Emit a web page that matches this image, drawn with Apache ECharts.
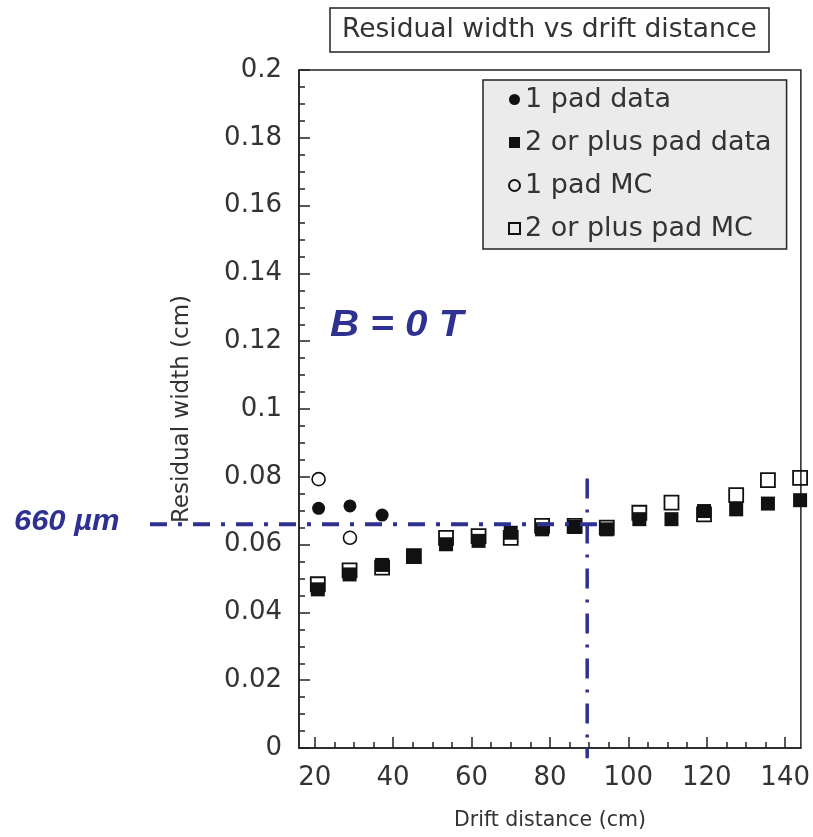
<!DOCTYPE html>
<html>
<head>
<meta charset="utf-8">
<script src="https://cdn.jsdelivr.net/npm/echarts@6/dist/echarts.min.js"></script>
<style>
html,body{margin:0;padding:0;background:#fff;}
#chart{width:813px;height:837px;}
</style>
</head>
<body>
<div id="chart"></div>
<script>
// ---- data ----
const xTickLabels = [20, 40, 60, 80, 100, 120, 140];
const xMinorTicks = [25, 30, 35, 45, 50, 55, 65, 70, 75, 85, 90, 95, 105, 110, 115, 125, 130, 135];

const xPad1Data = [21, 29, 37.2];
const yPad1Data = [0.0707, 0.0714, 0.0687];

const xPad1MC = [21, 29];
const yPad1MC = [0.0793, 0.062];

const xPad2 = [20.8, 28.9, 37.2, 45.3, 53.5, 61.8, 70, 78, 86.3, 94.5, 102.8, 111, 119.3, 127.5, 135.6, 143.8];
const yPad2Data = [0.0468, 0.0512, 0.054, 0.0566, 0.0601, 0.0611, 0.0635, 0.0645, 0.0652, 0.0645, 0.0675, 0.0675, 0.0699, 0.0704, 0.0721, 0.0731];
const yPad2MC = [0.0483, 0.0524, 0.0532, 0.0566, 0.062, 0.0625, 0.062, 0.0655, 0.0655, 0.065, 0.0694, 0.0724, 0.0689, 0.0746, 0.079, 0.0797];

// reference lines (data coordinates)
const hLineX = [-22, 93.5];
const hLineY = 0.066;
const vLineX = 89.5;
const vLineY = [0.0795, -0.003];

const seriesNames = ['1 pad data', '2 or plus pad data', '1 pad MC', '2 or plus pad MC'];

const zip = (xs, ys) => xs.map((x, i) => [x, ys[i]]);

const FONT = 'DejaVu Sans';
const INK = '#222';
const TXT = '#333';
const BLUE = '#2e3192';

const chart = echarts.init(document.getElementById('chart'), null, {renderer: 'canvas'});

const textGraphics = [
  {
    type: 'text', left: 330, top: 308, z: 10, scaleX: 1.12,
    style: {text: 'B = 0 T', fill: BLUE, font: 'italic bold 36px "Liberation Sans", Arial, sans-serif'}
  },
  {
    type: 'text', left: 14, top: 507, z: 10, scaleX: 1.03,
    style: {text: '660 µm', fill: BLUE, font: 'italic bold 30px "Liberation Sans", Arial, sans-serif'}
  }
];

const option = {
  animation: false,
  backgroundColor: '#fff',
  title: {
    text: 'Residual width vs drift distance',
    left: 330, top: 8,
    padding: [8, 12, 8, 12],
    borderColor: INK, borderWidth: 1.5,
    backgroundColor: '#fff',
    textStyle: {fontFamily: FONT, fontSize: 26.5, fontWeight: 'normal', color: TXT, lineHeight: 28}
  },
  legend: {
    data: seriesNames,
    orient: 'vertical',
    left: 483, top: 80,
    padding: [6, 15, 7, 25],
    itemGap: 16,
    itemWidth: 11, itemHeight: 11,
    backgroundColor: '#ebebeb',
    borderColor: INK, borderWidth: 1.5,
    textStyle: {fontFamily: FONT, fontSize: 27, color: TXT, lineHeight: 27}
  },
  grid: {
    left: 299, right: 9, top: 70, bottom: 89,
    show: true, borderColor: INK, borderWidth: 1.5, backgroundColor: 'transparent'
  },
  xAxis: [{
    type: 'value', min: 16, max: 144,
    name: 'Drift distance (cm)', nameLocation: 'middle', nameGap: 62,
    nameTextStyle: {fontFamily: FONT, fontSize: 20.5, color: TXT},
    axisLine: {show: true, onZero: false, lineStyle: {color: INK, width: 1.5}},
    axisTick: {show: true, inside: true, length: 11, customValues: xTickLabels, lineStyle: {color: INK, width: 1.5}},
    axisLabel: {show: true, customValues: xTickLabels, margin: 17, fontFamily: FONT, fontSize: 26, color: TXT},
    splitLine: {show: false}
  }, {
    type: 'value', min: 16, max: 144, position: 'bottom',
    axisLine: {show: false},
    axisTick: {show: true, inside: true, length: 6, customValues: xMinorTicks, lineStyle: {color: INK, width: 1.5}},
    axisLabel: {show: false},
    splitLine: {show: false}
  }],
  yAxis: {
    type: 'value', min: 0, max: 0.2, interval: 0.02,
    name: 'Residual width (cm)', nameLocation: 'middle', nameGap: 105, nameRotate: 90,
    nameTextStyle: {fontFamily: FONT, fontSize: 23, color: TXT},
    axisLine: {show: true, lineStyle: {color: INK, width: 1.5}},
    axisTick: {show: true, inside: true, length: 11, lineStyle: {color: INK, width: 1.5}},
    minorTick: {show: true, splitNumber: 4, length: 6, lineStyle: {color: INK, width: 1.5}},
    axisLabel: {margin: 17, fontFamily: FONT, fontSize: 26, color: TXT,
      formatter: v => String(+v.toFixed(3))},
    splitLine: {show: false}
  },
  series: [
    {
      name: '1 pad MC', type: 'scatter', symbol: 'circle', symbolSize: 13,
      itemStyle: {color: 'rgba(255,255,255,0)', borderColor: '#111', borderWidth: 1.6, opacity: 1},
      data: zip(xPad1MC, yPad1MC), clip: false
    },
    {
      name: '2 or plus pad MC', type: 'scatter', symbol: 'rect', symbolSize: 14,
      itemStyle: {color: 'rgba(255,255,255,0)', borderColor: '#111', borderWidth: 1.8, opacity: 1},
      data: zip(xPad2, yPad2MC), clip: false
    },
    {
      name: '1 pad data', type: 'scatter', symbol: 'circle', symbolSize: 13,
      itemStyle: {color: '#111', opacity: 1},
      data: zip(xPad1Data, yPad1Data), clip: false
    },
    {
      name: '2 or plus pad data', type: 'scatter', symbol: 'rect', symbolSize: 14,
      itemStyle: {color: '#111', opacity: 1},
      data: zip(xPad2, yPad2Data), clip: false
    }
  ],
  graphic: textGraphics
};
chart.setOption(option);

// reference dash-dot lines, positioned through the chart's own scales
const toPx = (x, y) => chart.convertToPixel({xAxisIndex: 0, yAxisIndex: 0}, [x, y]);
const hPts = hLineX.map(x => toPx(x, hLineY));
const vPts = vLineY.map(y => toPx(vLineX, y));
chart.setOption({
  graphic: textGraphics.concat([
    {
      type: 'polyline', z: 20, silent: true,
      shape: {points: hPts},
      style: {stroke: BLUE, lineWidth: 4, fill: null, lineDash: [17, 11, 4, 11]}
    },
    {
      type: 'polyline', z: 20, silent: true,
      shape: {points: vPts},
      style: {stroke: BLUE, lineWidth: 3.5, fill: null, lineDash: [20, 11, 3, 11]}
    }
  ])
}, {replaceMerge: ['graphic']});
</script>
</body>
</html>
